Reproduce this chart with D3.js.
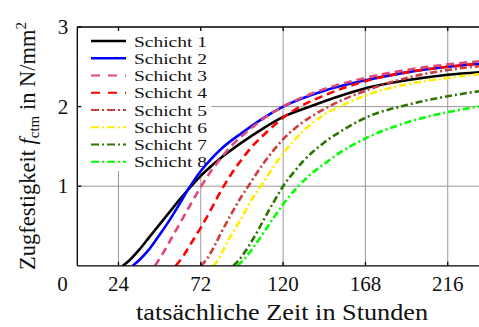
<!DOCTYPE html>
<html><head><meta charset="utf-8">
<script src="https://cdn.jsdelivr.net/npm/d3@7"></script>
<style>html,body{margin:0;padding:0;background:#fff;overflow:hidden}</style>
</head><body>
<svg id="chart" width="479" height="327"></svg>
<script>
// ---- data ----
const seriesNames = ["Schicht 1","Schicht 2","Schicht 3","Schicht 4","Schicht 5","Schicht 6","Schicht 7","Schicht 8"];
const t1 = [26.5,30,36,42,48,54,60,66,72,78,84,96,108,120,137,150,168,192,216,240];
const v1 = [0,0.06,0.2,0.36,0.52,0.68,0.84,0.99,1.13,1.25,1.36,1.55,1.72,1.87,2.01,2.11,2.23,2.33,2.40,2.44];
const t2 = [32.3,36,42,48,54,60,64,68,72,78,84,96,108,120,144,168,192,216,240];
const v2 = [0,0.07,0.21,0.39,0.58,0.79,0.94,1.07,1.19,1.34,1.47,1.67,1.85,2.0,2.2,2.33,2.43,2.5,2.55];
const t3 = [45.3,50,55,60,66,72,78,84,90,96,102,108,120,144,168,192,216,240];
const v3 = [0,0.16,0.35,0.54,0.77,0.99,1.19,1.36,1.51,1.63,1.74,1.84,2.0,2.22,2.36,2.46,2.53,2.58];
const t4 = [57.4,62,66,72,78,84,90,96,102,108,114,120,130,144,168,192,216,240];
const v4 = [0,0.13,0.27,0.48,0.71,0.95,1.16,1.34,1.5,1.63,1.75,1.86,2.0,2.14,2.32,2.43,2.5,2.55];
const t5 = [72.1,76,80,84,90,96,100,108,114,120,130,144,168,192,216,240];
const v5 = [0,0.1,0.25,0.42,0.66,0.88,1.01,1.27,1.44,1.59,1.78,1.97,2.2,2.36,2.46,2.52];
const t6 = [79.3,82,88,96,102,108,114,120,132,144,156,168,192,216,240];
const v6 = [0,0.07,0.32,0.61,0.84,1.03,1.23,1.41,1.7,1.9,2.03,2.14,2.28,2.36,2.42];
const t7 = [91,96,100,105,110,115,120,126,132,144,156,168,192,216,240];
const v7 = [0,0.12,0.25,0.43,0.63,0.82,1.0,1.17,1.32,1.55,1.72,1.86,2.02,2.13,2.21];
const t8 = [93.5,98,104,110,116,122,128,134,144,156,168,192,216,240];
const v8 = [0,0.1,0.27,0.46,0.65,0.83,0.98,1.11,1.28,1.46,1.6,1.8,1.93,2.02];
const xTicks = [24,72,120,168,216];
const yTicks = [1,2,3];

// ---- styles ----
const colors = ["#000000","#0000ff","#e0487a","#ff0000","#cc3c3c","#ffee00","#2f7400","#00ff00"];
const dashes = [null,null,"8,5","8,5","7,3,2,3","7,3,2,3","7,3,2,3","7,3,2,3"];
const allT = [t1,t2,t3,t4,t5,t6,t7,t8];
const allV = [v1,v2,v3,v4,v5,v6,v7,v8];

const svg = d3.select("#chart");
const FONT = "'Liberation Serif', 'Times New Roman', serif";
const L = 77.3, T = 27, B = 265.8;
const x = d3.scaleLinear().domain([0,240]).range([L, L + 240*1.715]);
const y = d3.scaleLinear().domain([0,3]).range([B, T]);
const R = 480;

// grid
const g = svg.append("g");
g.selectAll(".gx").data(xTicks).enter().append("line")
  .attr("x1", d=>x(d)).attr("x2", d=>x(d)).attr("y1", T).attr("y2", B)
  .attr("stroke","#999").attr("stroke-width",1);
g.selectAll(".gy").data(yTicks.filter(d=>d<3)).enter().append("line")
  .attr("x1", L).attr("x2", R).attr("y1", d=>y(d)).attr("y2", d=>y(d))
  .attr("stroke","#999").attr("stroke-width",1);

// legend background and entries
const lg = svg.append("g");
lg.append("rect").attr("x", L+1).attr("y", T+1).attr("width", 133).attr("height", 143).attr("fill","#fff");
seriesNames.forEach((name,i)=>{
  const yy = 41 + i*17.25;
  lg.append("line").attr("x1",91).attr("x2",126).attr("y1",yy).attr("y2",yy)
    .attr("stroke",colors[i]).attr("stroke-width", i<2 ? 2.6 : 2.2)
    .attr("stroke-dasharray", dashes[i] ? (i<4 ? "9,8" : "8,3,2,3") : null);
  lg.append("text").attr("x",134).attr("y",yy+5.5).attr("font-family",FONT).attr("font-size",15.5)
    .attr("textLength",73).attr("lengthAdjust","spacingAndGlyphs")
    .attr("fill","#111").text(name);
});

// clip
svg.append("clipPath").attr("id","clip").append("rect").attr("x",L).attr("y",T).attr("width",R-L).attr("height",B-T);

const line = d3.line().x(d=>x(d[0])).y(d=>y(d[1])).curve(d3.curveMonotoneX);
const lines = svg.append("g").attr("clip-path","url(#clip)");
allT.forEach((ts,i)=>{
  const pts = ts.map((t,k)=>[t, allV[i][k]]);
  lines.append("path").attr("d", line(pts)).attr("fill","none")
    .attr("stroke", colors[i]).attr("stroke-width", 2.6)
    .attr("stroke-dasharray", dashes[i]);
});

// frame
const fr = svg.append("g").attr("stroke","#000").attr("stroke-width",1.3);
fr.append("line").attr("x1",L).attr("x2",L).attr("y1",T).attr("y2",B);
fr.append("line").attr("x1",L).attr("x2",R).attr("y1",T).attr("y2",T);
fr.append("line").attr("x1",L).attr("x2",R).attr("y1",B).attr("y2",B);
// ticks
xTicks.forEach(d=>{
  fr.append("line").attr("x1",x(d)).attr("x2",x(d)).attr("y1",B).attr("y2",B-4);
  fr.append("line").attr("x1",x(d)).attr("x2",x(d)).attr("y1",T).attr("y2",T+4);
});
yTicks.forEach(d=>{
  fr.append("line").attr("x1",L).attr("x2",L+4).attr("y1",y(d)).attr("y2",y(d));
});

// tick labels
const xl = svg.append("g").attr("font-family",FONT).attr("font-size",21).attr("fill","#111").attr("text-anchor","middle");
xTicks.forEach(d=>{ xl.append("text").attr("x",x(d)).attr("y",291).text(d); });
xl.append("text").attr("x",62.5).attr("y",291).text("0");
const yl = svg.append("g").attr("font-family",FONT).attr("font-size",21).attr("fill","#111").attr("text-anchor","middle");
yTicks.forEach(d=>{ yl.append("text").attr("x",63).attr("y",y(d)+7).text(d); });

// axis titles
svg.append("text").attr("x",282).attr("y",320).attr("text-anchor","middle")
  .attr("font-family",FONT).attr("font-size",22.5).attr("fill","#111")
  .attr("textLength",292).attr("lengthAdjust","spacingAndGlyphs").text("tatsächliche Zeit in Stunden");
const yt = svg.append("text").attr("transform","translate(35,146) rotate(-90)").attr("text-anchor","middle")
  .attr("font-family",FONT).attr("font-size",22.5).attr("fill","#111");
yt.append("tspan").text("Zugfestigkeit ");
yt.append("tspan").attr("font-style","italic").text("f");
yt.append("tspan").attr("font-size",15).attr("dy",4).text("ctm");
yt.append("tspan").attr("dy",-4).text(" in N/mm");
yt.append("tspan").attr("font-size",15).attr("dy",-9).text("2");
</script>
</body></html>
